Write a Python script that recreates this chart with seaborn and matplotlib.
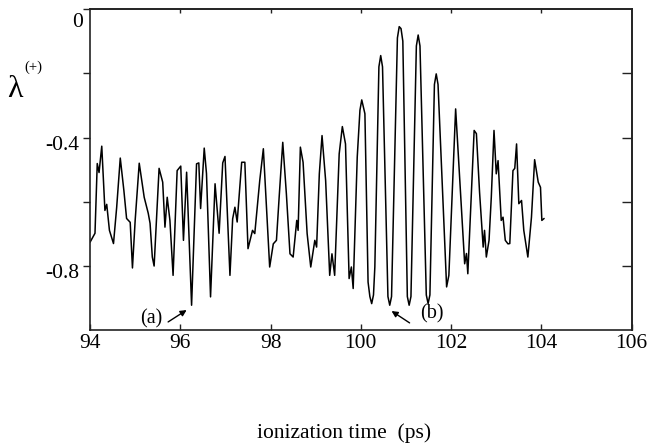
import matplotlib
matplotlib.use("Agg")
import matplotlib.pyplot as plt
import seaborn as sns
import pandas as pd
from matplotlib.transforms import ScaledTranslation

# ---- data ----
time_ps = [94.00, 94.11, 94.16, 94.20, 94.26, 94.33, 94.37, 94.43, 94.52, 94.59,
           94.67, 94.75, 94.81, 94.89, 94.94, 95.00, 95.09, 95.20, 95.29, 95.33,
           95.38, 95.42, 95.53, 95.61, 95.66, 95.71, 95.77, 95.84, 95.93, 96.01,
           96.07, 96.14, 96.25, 96.36, 96.41, 96.45, 96.53, 96.58, 96.67, 96.77,
           96.86, 96.94, 96.99, 97.10, 97.16, 97.21, 97.26, 97.36, 97.43, 97.50,
           97.60, 97.65, 97.76, 97.84, 97.98, 98.06, 98.13, 98.19, 98.27, 98.35,
           98.43, 98.50, 98.58, 98.61, 98.66, 98.72, 98.81, 98.89, 98.98, 99.02,
           99.08, 99.14, 99.22, 99.31, 99.36, 99.42, 99.52, 99.59, 99.66, 99.74,
           99.79, 99.83, 99.92, 99.98, 100.02, 100.09, 100.16, 100.20, 100.24, 100.28,
           100.31, 100.40, 100.44, 100.48, 100.60, 100.64, 100.68, 100.81, 100.85, 100.89,
           100.93, 101.03, 101.07, 101.11, 101.23, 101.27, 101.31, 101.45, 101.49, 101.53,
           101.63, 101.67, 101.71, 101.90, 101.95, 102.10, 102.30, 102.34, 102.37, 102.51,
           102.56, 102.63, 102.71, 102.74, 102.78, 102.84, 102.89, 102.95, 103.00, 103.04,
           103.11, 103.15, 103.20, 103.26, 103.30, 103.34, 103.37, 103.41, 103.45, 103.50,
           103.56, 103.61, 103.70, 103.78, 103.85, 103.93, 103.98, 104.01, 104.06]
lambda_plus = [-0.726, -0.698, -0.481, -0.509, -0.427, -0.627, -0.608, -0.689, -0.730, -0.618,
               -0.464, -0.565, -0.652, -0.664, -0.806, -0.658, -0.480, -0.586, -0.636, -0.667,
               -0.772, -0.800, -0.496, -0.539, -0.679, -0.586, -0.658, -0.829, -0.503, -0.489,
               -0.720, -0.508, -0.922, -0.482, -0.479, -0.621, -0.433, -0.512, -0.896, -0.544,
               -0.698, -0.479, -0.459, -0.829, -0.653, -0.617, -0.663, -0.477, -0.477, -0.746,
               -0.689, -0.699, -0.534, -0.435, -0.803, -0.731, -0.720, -0.586, -0.415, -0.575,
               -0.762, -0.772, -0.658, -0.689, -0.430, -0.477, -0.699, -0.803, -0.720, -0.741,
               -0.513, -0.394, -0.534, -0.829, -0.762, -0.829, -0.451, -0.366, -0.420, -0.839,
               -0.803, -0.870, -0.461, -0.315, -0.283, -0.326, -0.850, -0.895, -0.917, -0.890,
               -0.803, -0.180, -0.145, -0.180, -0.895, -0.922, -0.895, -0.090, -0.055, -0.061,
               -0.100, -0.895, -0.922, -0.895, -0.115, -0.081, -0.115, -0.890, -0.917, -0.890,
               -0.235, -0.202, -0.235, -0.865, -0.829, -0.311, -0.793, -0.761, -0.824, -0.378,
               -0.388, -0.570, -0.741, -0.689, -0.772, -0.720, -0.586, -0.378, -0.513, -0.472,
               -0.658, -0.648, -0.720, -0.731, -0.730, -0.596, -0.503, -0.496, -0.420, -0.606,
               -0.596, -0.689, -0.772, -0.648, -0.469, -0.539, -0.555, -0.658, -0.652]

x_ticks = [94, 96, 98, 100, 102, 104, 106]
x_tick_labels = ["94", "96", "98", "100", "102", "104", "106"]
y_major = [0, -0.4, -0.8]
y_major_labels = ["0", "-0.4", "-0.8"]
y_minor = [-0.2, -0.6]

annot_labels = ["(a)", "(b)"]
annot_text_xy = [(95.35, -0.965), (101.58, -0.948)]
annot_arrow_tail = [(95.73, -0.974), (101.08, -0.977)]
annot_arrow_head = [(96.14, -0.937), (100.68, -0.940)]

df = pd.DataFrame({"time": time_ps, "lam": lambda_plus})

# ---- style ----
sns.set_style("white")
plt.rcParams["font.family"] = ["Liberation Serif", "DejaVu Serif"]
plt.rcParams["axes.unicode_minus"] = False

fig = plt.figure(figsize=(6.5, 4.47), dpi=100)
ax = fig.add_axes([0.1385, 0.2611, 0.8333, 0.7188])

sns.lineplot(data=df, x="time", y="lam", ax=ax, color="black",
             linewidth=1.1, sort=False, estimator=None)

ax.set_xlim(94, 106)
ax.set_ylim(-1.0, 0.0)
ax.set_xlabel("")
ax.set_ylabel("")

for sp in ax.spines.values():
    sp.set_visible(True)
    sp.set_linewidth(1.2)
    sp.set_color("#222222")

ax.set_xticks(x_ticks, x_tick_labels)
ax.set_yticks(y_major, y_major_labels)
ax.set_yticks(y_minor, minor=True)
ax.tick_params(axis="x", which="both", direction="in", length=4, width=1,
               bottom=True, top=False,
               colors="#222222", labelsize=15.5, pad=3, labelcolor="black")
ax.tick_params(axis="y", which="both", direction="out", length=5, width=1,
               left=True, right=False,
               colors="#222222", labelsize=15.5, pad=3, labelcolor="black")

# top and right inward ticks without labels
sec_top = ax.secondary_xaxis("top")
sec_top.set_xticks(x_ticks[1:-1])
sec_top.tick_params(axis="x", direction="in", length=3, width=1, top=True,
                    labeltop=False, colors="#222222")
sec_top.spines["top"].set_linewidth(1.2)
sec_top.spines["top"].set_color("#222222")
sec_right = ax.secondary_yaxis("right")
sec_right.set_yticks(y_minor + y_major[1:])
sec_right.tick_params(axis="y", direction="in", length=7, width=1, right=True,
                      labelright=False, colors="#222222")
sec_right.spines["right"].set_linewidth(1.2)
sec_right.spines["right"].set_color("#222222")

# annotations
for lab, txy, tail, head in zip(annot_labels, annot_text_xy, annot_arrow_tail, annot_arrow_head):
    ax.text(txy[0], txy[1], lab, ha="center", va="center", fontsize=14.5, color="black")
    ax.annotate("", xy=head, xytext=tail,
                arrowprops=dict(arrowstyle="-|>", lw=1.0, color="black",
                                mutation_scale=9, shrinkA=0, shrinkB=0))

# axis titles
fig.text(344 / 650, 1 - 433 / 447, "ionization time  (ps)", ha="center", va="center",
         fontsize=15.5, color="black")
fig.text(7 / 650, 1 - 97 / 447, "λ", ha="left", va="baseline", fontsize=23, color="black")
fig.text(24 / 650, 1 - 67.5 / 447, "(+)", ha="left", va="center", fontsize=10.5, color="black")

# nudge the y tick labels as in the reference
for lbl in ax.yaxis.get_majorticklabels():
    if lbl.get_text() == "0":
        dx, dy = 4, -11
    else:
        dx, dy = 0, -5
    lbl.set_transform(lbl.get_transform() + ScaledTranslation(dx / 100, dy / 100, fig.dpi_scale_trans))

fig.savefig("out.png", dpi=100)
